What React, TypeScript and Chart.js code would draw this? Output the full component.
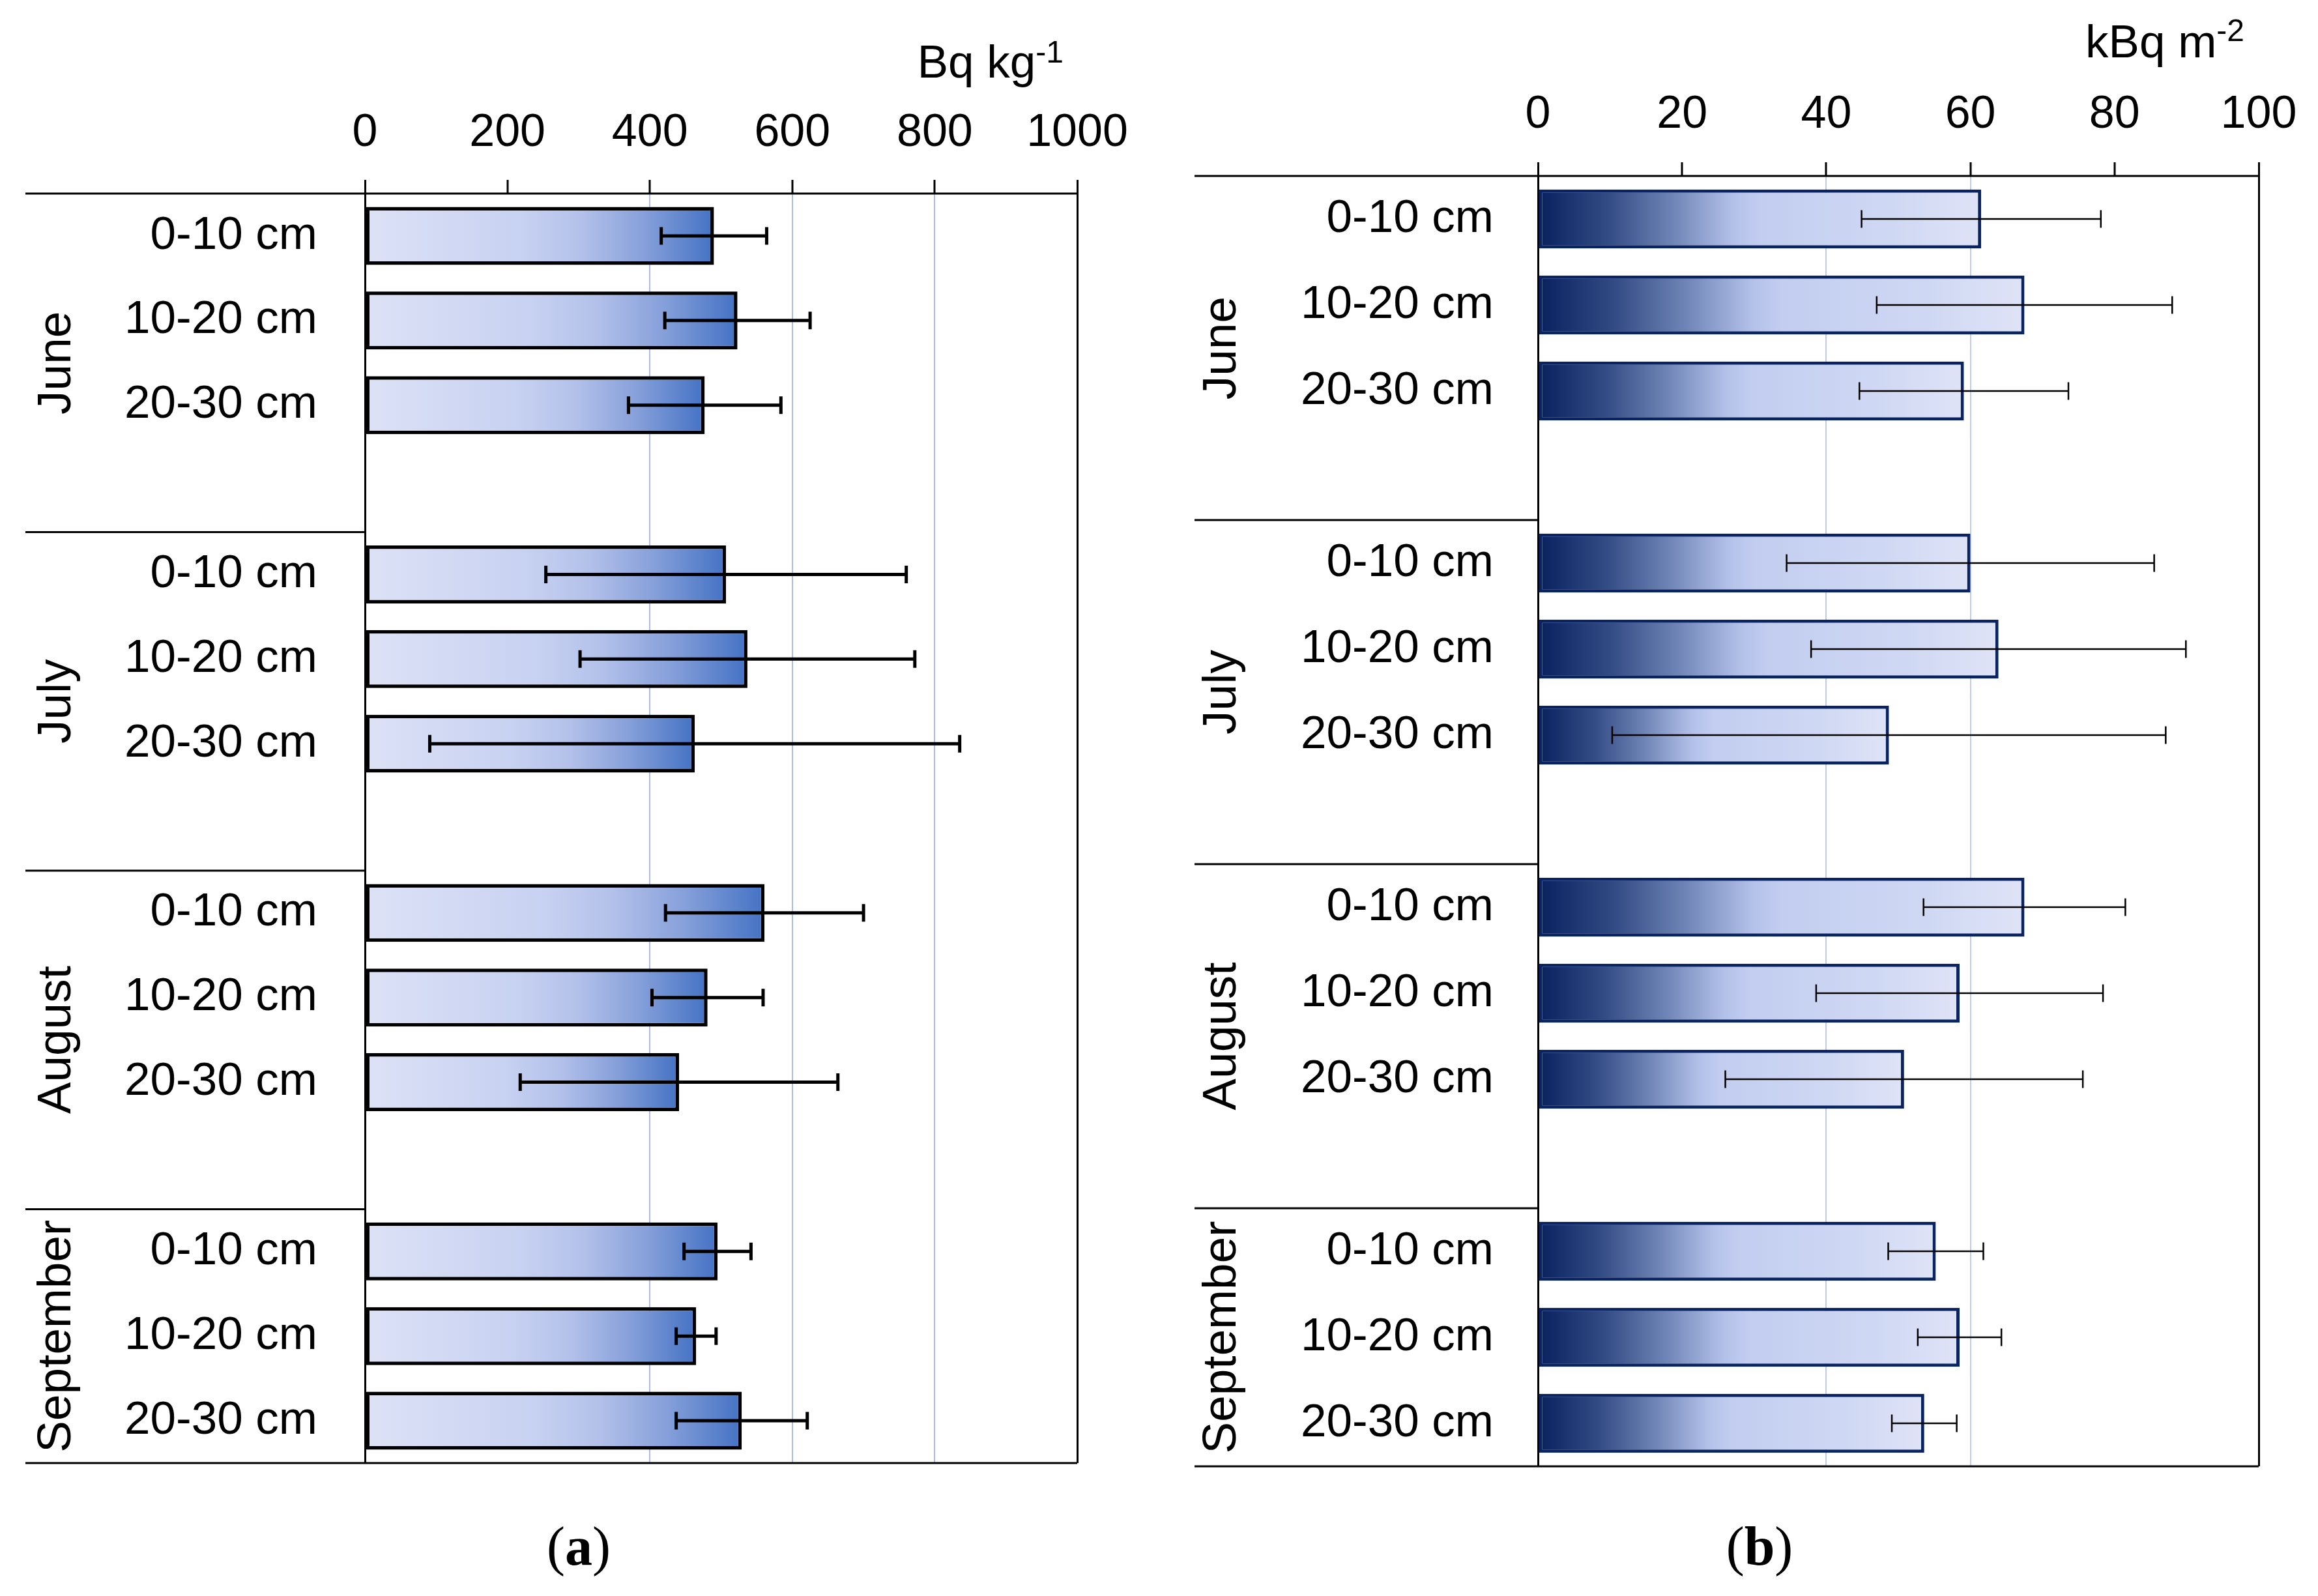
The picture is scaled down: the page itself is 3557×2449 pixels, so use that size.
import React, { useEffect, useRef } from "react";
import { Chart, registerables } from "chart.js";

Chart.register(...registerables);

const SANS = "'Liberation Sans', Arial, Helvetica, sans-serif";
const SERIF = "'Liberation Serif', 'Times New Roman', serif";

const months = ["June", "July", "August", "September"];
const depths = ["0-10 cm", "10-20 cm", "20-30 cm"];

// (a) activity concentration in soil, Bq kg-1 (per month: 0-10, 10-20, 20-30 cm)
const massActivity = [490, 523, 477, 507, 537, 463, 561, 481, 441, 495, 465, 529];
const massActivitySd = [74, 102, 107, 253, 235, 372, 139, 78, 223, 47, 28, 92];
const massTicks = [0, 200, 400, 600, 800, 1000];
const massGridShown = [400, 600, 800];

// (b) inventory per unit area, kBq m-2
const arealActivity = [61.5, 67.5, 59.1, 60.0, 63.9, 48.7, 67.5, 58.5, 50.8, 55.2, 58.5, 53.6];
const arealActivitySd = [16.6, 20.5, 14.5, 25.5, 26.0, 38.4, 14.0, 19.9, 24.8, 6.6, 5.8, 4.5];
const arealTicks = [0, 20, 40, 60, 80, 100];
const arealGridShown = [40, 60];

type Stop = [number, string];

type PanelSpec = {
  values: number[];
  sd: number[];
  ticks: number[];
  gridShown: number[];
  gridColor: string;
  unit: string;
  unitSup: string;
  caption: string;
  left: number;
  width: number;
  axisWidth: number;
  axisHeight: number;
  padRight: number;
  padBottom: number;
  labelGap: number;
  tickPad: number;
  sepStart: number;
  monthX: number;
  unitRight: number;
  unitBase: number;
  supBase: number;
  captionX: number;
  captionBase: number;
  stops: Stop[];
  border: string;
  borderWidth: number;
  errWidth: number;
};

// one row per depth, with an empty spacer row between months
function buildRows(values: number[], sd: number[]) {
  const labels: string[] = [];
  const data: (number | null)[] = [];
  const err: (number | null)[] = [];
  months.forEach((_, mi) => {
    depths.forEach((d, di) => {
      labels.push(d);
      data.push(values[mi * depths.length + di]);
      err.push(sd[mi * depths.length + di]);
    });
    if (mi < months.length - 1) {
      labels.push("");
      data.push(null);
      err.push(null);
    }
  });
  return { labels, data, err };
}

function makeDecor(spec: PanelSpec, err: (number | null)[]) {
  return {
    id: "panelDecor",
    afterDatasetsDraw(chart: any) {
      const { ctx } = chart;
      const xs = chart.scales.x;
      const ys = chart.scales.y;
      const data = chart.data.datasets[0].data as (number | null)[];
      const cap = 27;
      ctx.save();
      ctx.strokeStyle = "#000";
      ctx.lineWidth = spec.errWidth;
      ctx.lineCap = "butt";
      data.forEach((v, i) => {
        const e = err[i];
        if (v == null || e == null) return;
        const y = ys.getPixelForValue(i);
        const x1 = xs.getPixelForValue(v - e);
        const x2 = xs.getPixelForValue(v + e);
        ctx.beginPath();
        ctx.moveTo(x1, y);
        ctx.lineTo(x2, y);
        ctx.moveTo(x1, y - cap / 2);
        ctx.lineTo(x1, y + cap / 2);
        ctx.moveTo(x2, y - cap / 2);
        ctx.lineTo(x2, y + cap / 2);
        ctx.stroke();
      });
      ctx.restore();
    },
    afterDraw(chart: any) {
      const { ctx, chartArea } = chart;
      const ys = chart.scales.y;
      const n = chart.data.labels.length;
      const slot = ys.getPixelForValue(1) - ys.getPixelForValue(0);
      const edge = (k: number) => (k >= n ? chartArea.bottom : ys.getPixelForValue(k) - slot / 2);

      ctx.save();
      ctx.strokeStyle = "#000";
      ctx.lineWidth = 3;
      ctx.beginPath();
      // top axis line and bottom frame line run under the row labels too
      ctx.moveTo(spec.sepStart, chartArea.top);
      ctx.lineTo(chartArea.right, chartArea.top);
      ctx.moveTo(spec.sepStart, chartArea.bottom);
      ctx.lineTo(chartArea.right, chartArea.bottom);
      const per = depths.length + 1;
      for (let mi = 1; mi < months.length; mi++) {
        const y = edge(mi * per);
        ctx.moveTo(spec.sepStart, y);
        ctx.lineTo(chartArea.left, y);
      }
      ctx.stroke();

      // month names, rotated
      ctx.fillStyle = "#000";
      ctx.font = `73px ${SANS}`;
      ctx.textAlign = "center";
      ctx.textBaseline = "alphabetic";
      months.forEach((m, mi) => {
        const top = edge(mi * per);
        const bottom = mi === months.length - 1 ? chartArea.bottom : edge((mi + 1) * per);
        ctx.save();
        ctx.translate(spec.monthX, (top + bottom) / 2);
        ctx.rotate(-Math.PI / 2);
        ctx.fillText(m, 0, 0);
        ctx.restore();
      });

      // unit label with superscript
      ctx.textAlign = "left";
      ctx.font = `71px ${SANS}`;
      const wMain = ctx.measureText(spec.unit).width;
      ctx.font = `48px ${SANS}`;
      const wSup = ctx.measureText(spec.unitSup).width;
      const ux = spec.unitRight - wMain - wSup;
      ctx.font = `71px ${SANS}`;
      ctx.fillText(spec.unit, ux, spec.unitBase);
      ctx.font = `48px ${SANS}`;
      ctx.fillText(spec.unitSup, ux + wMain, spec.supBase);

      // panel caption "(x)" with bold letter
      const regular = `84px ${SERIF}`;
      const bold = `bold 84px ${SERIF}`;
      ctx.font = regular;
      const wOpen = ctx.measureText("(").width;
      const wClose = ctx.measureText(")").width;
      ctx.font = bold;
      const wLetter = ctx.measureText(spec.caption).width;
      let cx = spec.captionX - (wOpen + wLetter + wClose) / 2;
      ctx.font = regular;
      ctx.fillText("(", cx, spec.captionBase);
      cx += wOpen;
      ctx.font = bold;
      ctx.fillText(spec.caption, cx, spec.captionBase);
      cx += wLetter;
      ctx.font = regular;
      ctx.fillText(")", cx, spec.captionBase);
      ctx.restore();
    },
  };
}

function Panel({ spec }: { spec: PanelSpec }) {
  const ref = useRef<HTMLCanvasElement | null>(null);

  useEffect(() => {
    const canvas = ref.current;
    if (!canvas) return;
    const rows = buildRows(spec.values, spec.sd);
    const tMin = spec.ticks[0];
    const tMax = spec.ticks[spec.ticks.length - 1];
    const tStep = spec.ticks[1] - spec.ticks[0];

    const chart = new Chart(canvas, {
      type: "bar",
      data: {
        labels: rows.labels,
        datasets: [
          {
            data: rows.data,
            borderColor: spec.border,
            borderWidth: spec.borderWidth,
            borderSkipped: false,
            barPercentage: 0.685,
            categoryPercentage: 1,
            backgroundColor: (c: any) => {
              const chartRef = c.chart;
              const fallback = spec.stops[Math.floor(spec.stops.length / 2)][1];
              if (!chartRef.chartArea || c.type !== "data" || c.raw == null) return fallback;
              const xs = chartRef.scales.x;
              const x0 = xs.getPixelForValue(0);
              const x1 = xs.getPixelForValue(c.raw);
              if (!isFinite(x0) || !isFinite(x1) || x1 <= x0) return fallback;
              const g = chartRef.ctx.createLinearGradient(x0, 0, x1, 0);
              spec.stops.forEach(([o, col]) => g.addColorStop(o, col));
              return g;
            },
          },
        ],
      },
      options: {
        indexAxis: "y",
        responsive: false,
        maintainAspectRatio: false,
        animation: false,
        layout: {
          padding: { left: 0, top: 0, right: spec.padRight, bottom: spec.padBottom },
        },
        plugins: {
          legend: { display: false },
          tooltip: { enabled: false },
        },
        scales: {
          x: {
            type: "linear",
            position: "top",
            min: tMin,
            max: tMax,
            afterFit: (s: any) => {
              s.height = spec.axisHeight;
            },
            ticks: {
              stepSize: tStep,
              autoSkip: false,
              maxRotation: 0,
              color: "#000",
              padding: spec.tickPad,
              font: { family: SANS, size: 70 },
              callback: (v: any) => String(v),
            },
            border: { display: false },
            grid: {
              drawOnChartArea: true,
              drawTicks: true,
              tickLength: 21,
              tickWidth: 3,
              tickColor: "#000",
              color: (c: any) => {
                const v = c.tick ? c.tick.value : null;
                if (v === tMin || v === tMax) return "#000";
                if (spec.gridShown.includes(v)) return spec.gridColor;
                return "rgba(0,0,0,0)";
              },
              lineWidth: (c: any) => {
                const v = c.tick ? c.tick.value : null;
                return v === tMin || v === tMax ? 3 : 2;
              },
            },
          },
          y: {
            type: "category",
            position: "left",
            offset: true,
            afterFit: (s: any) => {
              s.width = spec.axisWidth;
            },
            ticks: {
              autoSkip: false,
              color: "#000",
              padding: spec.labelGap,
              font: { family: SANS, size: 71 },
            },
            grid: { display: false, drawTicks: false },
            border: { display: true, color: "#000", width: 3 },
          },
        },
      },
      plugins: [makeDecor(spec, rows.err)],
    } as any);

    return () => chart.destroy();
  }, [spec]);

  return (
    <canvas
      ref={ref}
      width={spec.width}
      height={2449}
      style={{ position: "absolute", left: spec.left, top: 0, display: "block" }}
    />
  );
}

const panelA: PanelSpec = {
  values: massActivity,
  sd: massActivitySd,
  ticks: massTicks,
  gridShown: massGridShown,
  gridColor: "#adbcf0",
  unit: "Bq kg",
  unitSup: "-1",
  caption: "a",
  left: 0,
  width: 1780,
  axisWidth: 560,
  axisHeight: 297,
  padRight: 127,
  padBottom: 204,
  labelGap: 73,
  tickPad: 29,
  sepStart: 39,
  monthX: 108,
  unitRight: 1632,
  unitBase: 119,
  supBase: 96,
  captionX: 888,
  captionBase: 2401,
  stops: [
    [0, "#dde2f6"],
    [0.45, "#c7d1f1"],
    [0.62, "#b3c1ea"],
    [0.8, "#86a0da"],
    [1, "#4472c4"],
  ],
  border: "#000000",
  borderWidth: 5.5,
  errWidth: 5,
};

const panelB: PanelSpec = {
  values: arealActivity,
  sd: arealActivitySd,
  ticks: arealTicks,
  gridShown: arealGridShown,
  gridColor: "#c0cbf2",
  unit: "kBq m",
  unitSup: "-2",
  caption: "b",
  left: 1780,
  width: 1777,
  axisWidth: 580,
  axisHeight: 270,
  padRight: 91,
  padBottom: 199,
  labelGap: 68,
  tickPad: 30,
  sepStart: 53,
  monthX: 116,
  unitRight: 1664,
  unitBase: 88,
  supBase: 63,
  captionX: 920,
  captionBase: 2401,
  stops: [
    [0, "#08205e"],
    [0.16, "#344c85"],
    [0.3, "#6d83b5"],
    [0.44, "#b3c1e9"],
    [0.5, "#c2cdf0"],
    [0.8, "#cfd8f3"],
    [1, "#dfe3f7"],
  ],
  border: "#0a2461",
  borderWidth: 5,
  errWidth: 2.5,
};

export default function App() {
  return (
    <div
      style={{
        position: "absolute",
        left: 0,
        top: 0,
        width: 3557,
        height: 2449,
        background: "#fff",
        overflow: "hidden",
      }}
    >
      <Panel spec={panelA} />
      <Panel spec={panelB} />
    </div>
  );
}
